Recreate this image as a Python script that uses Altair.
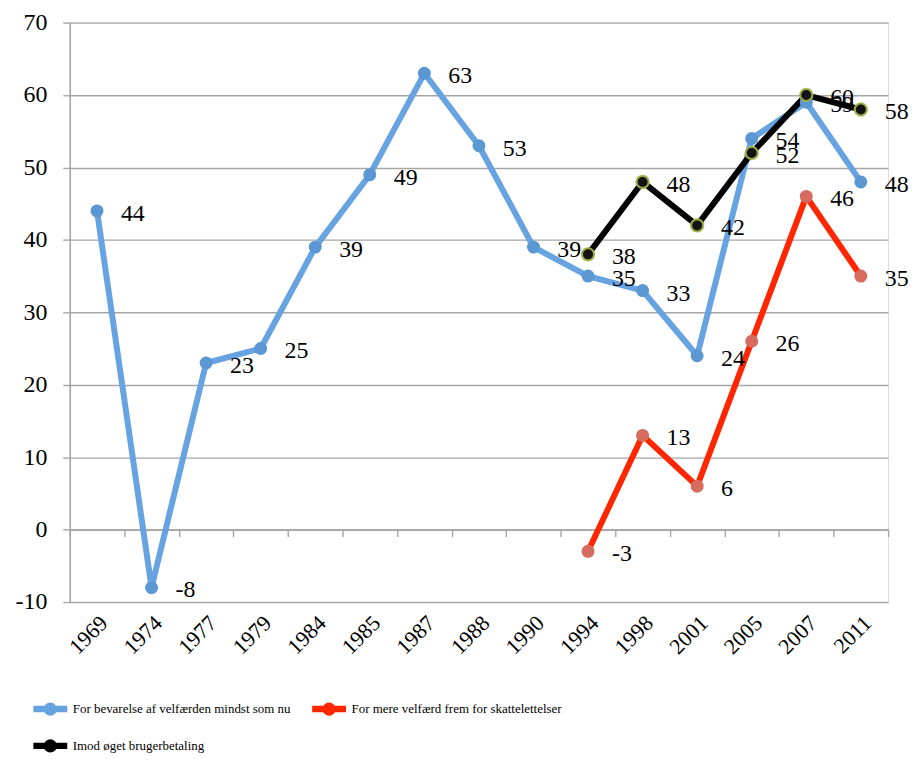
import altair as alt
import pandas as pd

years = ["1969", "1974", "1977", "1979", "1984", "1985", "1987", "1988",
         "1990", "1994", "1998", "2001", "2005", "2007", "2011"]

s1_name = "For bevarelse af velfærden mindst som nu"
s2_name = "For mere velfærd frem for skattelettelser"
s3_name = "Imod øget brugerbetaling"

s1_years = years
s1_vals = [44, -8, 23, 25, 39, 49, 63, 53, 39, 35, 33, 24, 54, 59, 48]
s2_years = ["1994", "1998", "2001", "2005", "2007", "2011"]
s2_vals = [-3, 13, 6, 26, 46, 35]
s3_years = ["1994", "1998", "2001", "2005", "2007", "2011"]
s3_vals = [38, 48, 42, 52, 60, 58]

series_names = [s1_name, s2_name, s3_name]
line_colors = ["#66a3e0", "#ff2600", "#000000"]
marker_colors = ["#5b97d2", "#d66b60", "#141414"]

rows = []
for name, ys, vs in [(s1_name, s1_years, s1_vals),
                     (s2_name, s2_years, s2_vals),
                     (s3_name, s3_years, s3_vals)]:
    for yr, v in zip(ys, vs):
        rows.append({"year": yr, "value": v, "series": name, "label": str(v)})
df = pd.DataFrame(rows)

W = 822
H = 582
SERIF = "Liberation Serif"
GRID = "#a6a6a6"

yscale = alt.Scale(domain=[-10, 70], nice=False, zero=False)
yaxis = alt.Axis(title=None, values=list(range(-10, 71, 10)), grid=True,
                 gridColor=GRID, gridWidth=1.4, domainColor=GRID, domainWidth=1.6,
                 tickColor=GRID, tickWidth=1.4, tickSize=7, labelFont=SERIF,
                 labelFontSize=24, labelColor="black", labelPadding=16,
                 labelExpr="'' + datum.value")
Y = alt.Y("value:Q", scale=yscale, axis=yaxis)

xscale = alt.Scale(type="band", domain=years, paddingInner=0, paddingOuter=0)
x_main = alt.X("year:N", scale=xscale, sort=years,
               axis=alt.Axis(title=None, labelAngle=-45, labelFont=SERIF,
                             labelFontSize=22, labelColor="black", ticks=False,
                             domain=False, grid=False, labelPadding=10))
x_zero = alt.X("year:N", scale=xscale, sort=years,
               axis=alt.Axis(title=None, orient="bottom", offset=-H * 10 / 80,
                             tickBand="extent", labels=False, grid=False,
                             domainColor=GRID, domainWidth=1.6, tickColor=GRID,
                             tickWidth=1.4, tickSize=7))
x_none = alt.X("year:N", scale=xscale, sort=years, axis=None)

base = alt.Chart(df)

symbol_path = ("M-1,0H1M0.2,0A0.2,0.2,0,1,1,-0.2,0A0.2,0.2,0,1,1,0.2,0")

lines = base.mark_line(strokeWidth=6, strokeCap="round", strokeJoin="round").encode(
    x=x_main, y=Y,
    color=alt.Color("series:N", scale=alt.Scale(domain=series_names, range=line_colors),
                    legend=alt.Legend(title=None, orient="none", legendX=-40, legendY=669,
                                      columns=2, direction="horizontal",
                                      symbolType=symbol_path, symbolSize=1156,
                                      symbolStrokeWidth=6.5, labelFont=SERIF,
                                      labelFontSize=13, labelColor="black",
                                      labelOffset=2, columnPadding=8, rowPadding=0,
                                      labelLimit=500)),
)

markers = base.mark_point(filled=True, size=170, opacity=1).encode(
    x=x_zero, y=Y,
    fill=alt.Fill("series:N", scale=alt.Scale(domain=series_names, range=marker_colors),
                  legend=None),
)

rings = base.transform_filter(alt.datum.series == s3_name).mark_point(
    filled=False, size=150, stroke="#a9b94e", strokeWidth=2.2, opacity=0.9
).encode(x=x_none, y=Y)

labels = base.mark_text(align="left", baseline="middle", dx=24, dy=3,
                        font=SERIF, fontSize=24, color="black").encode(
    x=x_none, y=Y, text="label:N"
)

chart = alt.layer(lines, markers, rings, labels).resolve_axis(
    x="independent"
).properties(
    width=W, height=H,
    autosize=alt.AutoSizeParams(type="none"),
    padding={"left": 62, "top": 13, "right": 23, "bottom": 152},
).configure_view(stroke=None).configure(background="white")

chart.save("out.html", embed_options={"renderer": "svg", "actions": False})
